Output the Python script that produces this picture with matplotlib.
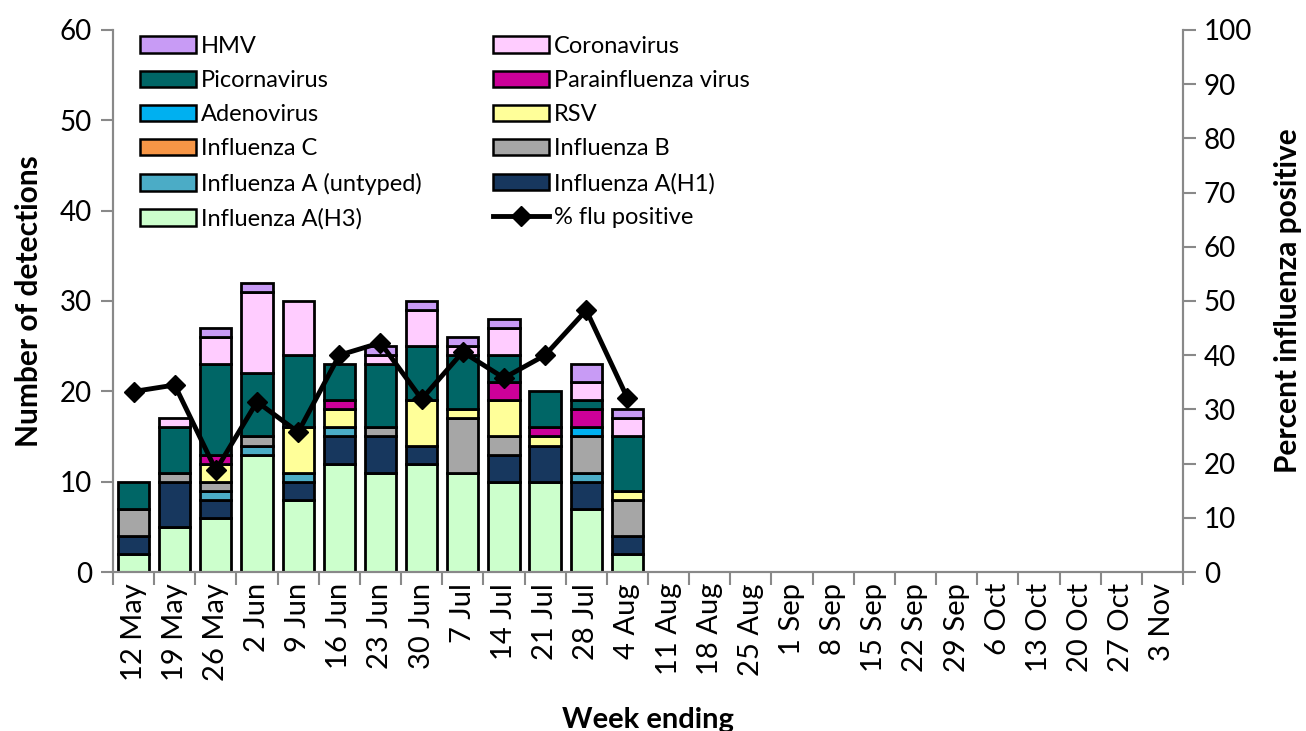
import matplotlib
matplotlib.use("Agg")
import matplotlib.pyplot as plt
import numpy as np
from matplotlib.patches import Patch
from matplotlib.lines import Line2D

plt.rcParams['font.family'] = ['Lato', 'DejaVu Sans']

weeks = ["12 May", "19 May", "26 May", "2 Jun", "9 Jun", "16 Jun", "23 Jun", "30 Jun",
         "7 Jul", "14 Jul", "21 Jul", "28 Jul", "4 Aug", "11 Aug", "18 Aug", "25 Aug",
         "1 Sep", "8 Sep", "15 Sep", "22 Sep", "29 Sep", "6 Oct", "13 Oct", "20 Oct",
         "27 Oct", "3 Nov"]

flu_h3      = [2, 5, 6, 13, 8, 12, 11, 12, 11, 10, 10, 7, 2]
flu_h1      = [2, 5, 2, 0, 2, 3, 4, 2, 0, 3, 4, 3, 2]
flu_untyped = [0, 0, 1, 1, 1, 1, 0, 0, 0, 0, 0, 1, 0]
flu_b       = [3, 1, 1, 1, 0, 0, 1, 0, 6, 2, 0, 4, 4]
flu_c       = [0, 0, 0, 0, 0, 0, 0, 0, 0, 0, 0, 0, 0]
rsv         = [0, 0, 2, 0, 5, 2, 0, 5, 1, 4, 1, 0, 1]
adeno       = [0, 0, 0, 0, 0, 0, 0, 0, 0, 0, 0, 1, 0]
parainf     = [0, 0, 1, 0, 0, 1, 0, 0, 0, 2, 1, 2, 0]
picorna     = [3, 5, 10, 7, 8, 4, 7, 6, 6, 3, 4, 1, 6]
corona      = [0, 1, 3, 9, 6, 0, 1, 4, 1, 3, 0, 2, 2]
hmv         = [0, 0, 1, 1, 0, 0, 1, 1, 1, 1, 0, 2, 1]
pct_flu     = [33.3, 34.5, 18.8, 31.4, 25.8, 40.0, 42.3, 31.9, 40.6, 35.8, 40.0, 48.3, 32.1]

series = [
    ("Influenza A(H3)", flu_h3, "#CCFFCC"),
    ("Influenza A(H1)", flu_h1, "#17375E"),
    ("Influenza A (untyped)", flu_untyped, "#4BACC6"),
    ("Influenza B", flu_b, "#A6A6A6"),
    ("Influenza C", flu_c, "#F79646"),
    ("RSV", rsv, "#FFFF99"),
    ("Adenovirus", adeno, "#00B0F0"),
    ("Parainfluenza virus", parainf, "#CC0099"),
    ("Picornavirus", picorna, "#006666"),
    ("Coronavirus", corona, "#FFCCFF"),
    ("HMV", hmv, "#C89BF5"),
]

fig = plt.figure(figsize=(13.06, 7.31), dpi=100)
ax = fig.add_axes([0.0865, 0.2175, 0.9058 - 0.0865, 0.959 - 0.2175])
ax2 = ax.twinx()

x = np.arange(len(weeks))
n = len(flu_h3)
bottom = np.zeros(n)
handles = {}
for name, vals, col in series:
    v = np.array(vals, dtype=float)
    mask = v > 0
    ax.bar(x[:n][mask], v[mask], bottom=bottom[mask], width=0.76, color=col,
           edgecolor="black", linewidth=2, zorder=2)
    bottom += v
    handles[name] = Patch(facecolor=col, edgecolor="black", linewidth=1.8)

ax2.plot(x[:n], pct_flu, color="black", linewidth=3.5, marker="D", markersize=10, zorder=5)
line_handle = Line2D([], [], color="black", linewidth=3.5, marker="D", markersize=10)

ax.set_xlim(-0.5, len(weeks) - 0.5)
ax.set_ylim(0, 60)
ax.set_yticks(range(0, 61, 10))
ax2.set_ylim(0, 100)
ax2.set_yticks(range(0, 101, 10))
ax2.patch.set_visible(False)

ax.set_xticks(x)
ax.set_xticklabels(weeks, rotation=90, fontsize=21)
ax.set_xticks(np.arange(-0.5, len(weeks)), minor=True)
ax.tick_params(axis="x", which="major", length=0, pad=8)
ax.tick_params(axis="x", which="minor", length=9, width=1.5, color="#898989")
ax.tick_params(axis="y", labelsize=20, length=9, width=1.5, color="#898989", pad=6)
ax2.tick_params(axis="y", labelsize=20, length=9, width=1.5, color="#898989", pad=6)

for a in (ax, ax2):
    a.spines["top"].set_visible(False)
    for s in ("left", "right", "bottom"):
        a.spines[s].set_color("#898989")
        a.spines[s].set_linewidth(1.5)

ax.set_ylabel("Number of detections", fontsize=21.5, fontweight="bold", labelpad=12)
ax2.set_ylabel("Percent influenza positive", fontsize=21.5, fontweight="bold", labelpad=16)
ax.set_xlabel("Week ending", fontsize=21, fontweight="bold", labelpad=19)

col1 = ["HMV", "Picornavirus", "Adenovirus", "Influenza C", "Influenza A (untyped)", "Influenza A(H3)"]
col2 = ["Coronavirus", "Parainfluenza virus", "RSV", "Influenza B", "Influenza A(H1)"]
leg_h = [handles[k] for k in col1] + [handles[k] for k in col2] + [line_handle]
leg_l = col1 + col2 + ["% flu positive"]
ax2.legend(leg_h, leg_l, ncol=2, loc="upper left", bbox_to_anchor=(0.107, 0.951),
           bbox_transform=fig.transFigure, frameon=False, fontsize=17,
           handlelength=2.4, handleheight=0.7, handletextpad=0.2,
           columnspacing=3.0, labelspacing=0.56, borderaxespad=0, borderpad=0)

fig.savefig("out.png", dpi=100)
